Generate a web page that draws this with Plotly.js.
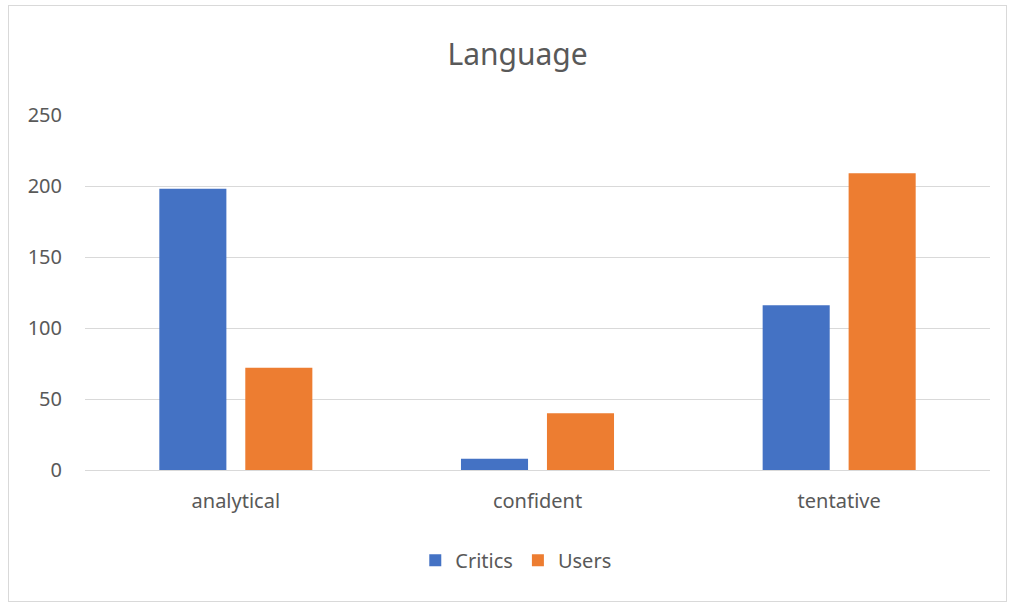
<!DOCTYPE html>
<html><head><meta charset="utf-8">
<script src="https://cdn.plot.ly/plotly-3.0.1.min.js"></script>
<style>
html,body{margin:0;padding:0;background:#fff;}
#wrap{position:relative;width:1013px;height:605px;}
#chart{width:1013px;height:605px;}
#border{position:absolute;left:8px;top:5px;width:999px;height:597px;border:1px solid #d9d9d9;pointer-events:none;box-sizing:border-box;}
</style></head>
<body>
<div id="wrap"><div id="chart"></div><div id="border"></div></div>
<script>
const categories = ["analytical", "confident", "tentative"];
const critics = [198, 8, 116];
const users = [72, 40, 209];
const yTicks = [0, 50, 100, 150, 200, 250];

const fontFam = "'Noto Sans', 'Open Sans', sans-serif";
const traces = [
  {type:"bar", name:"Critics", x:categories, y:critics, marker:{color:"#4472c4"}},
  {type:"bar", name:"Users", x:categories, y:users, marker:{color:"#ed7d31"}}
];
const layout = {
  width:1013, height:605,
  margin:{l:85, r:23, t:115, b:135},
  paper_bgcolor:"#fff", plot_bgcolor:"#fff",
  barmode:"group", bargap:0.43, bargroupgap:0.22,
  title:{text:"Language", font:{family:fontFam, size:30, color:"#595959"}, xref:"paper", x:0.478, xanchor:"center", y:0.91, yanchor:"middle"},
  font:{family:fontFam, color:"#595959", size:20},
  xaxis:{type:"category", showgrid:false, showline:true, linecolor:"#d9d9d9", linewidth:1, ticks:"", ticklabelstandoff:13, tickfont:{size:20, color:"#595959"}},
  yaxis:{range:[0,250], tickvals:yTicks, showgrid:true, gridcolor:"#d9d9d9", gridwidth:1, zeroline:false, showline:false, ticks:"", ticklabelstandoff:22, tickfont:{size:20, color:"#595959"}},
  legend:{orientation:"h", x:0.476, xanchor:"center", y:-0.254, yanchor:"middle", font:{size:20, color:"#595959"}, itemwidth:20},
  showlegend:true
};
Plotly.newPlot("chart", traces, layout, {displayModeBar:false, staticPlot:true});
</script>
</body></html>
